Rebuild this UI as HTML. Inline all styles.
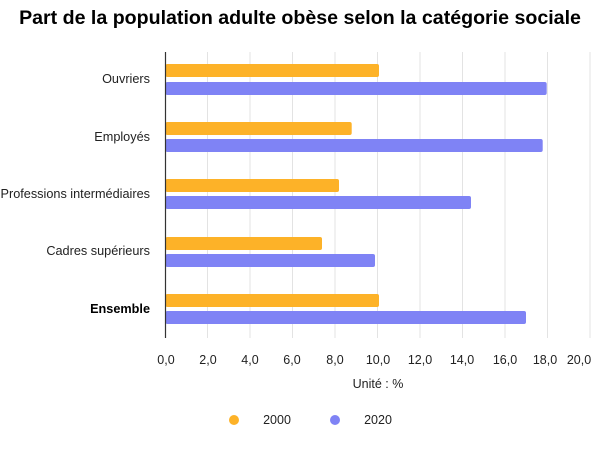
<!DOCTYPE html>
<html><head><meta charset="utf-8"><style>
body{margin:0;background:#fff;}
</style></head><body>
<svg width="600" height="450" xmlns="http://www.w3.org/2000/svg" font-family="'Liberation Sans',sans-serif">
<text x="300" y="24" text-anchor="middle" font-size="19.6" font-weight="bold" fill="#000">Part de la population adulte obèse selon la catégorie sociale</text>
<g stroke="#e3e3e3" stroke-width="1">
<line x1="207.5" y1="52" x2="207.5" y2="338"/><line x1="250" y1="52" x2="250" y2="338"/>
<line x1="292.5" y1="52" x2="292.5" y2="338"/><line x1="335" y1="52" x2="335" y2="338"/>
<line x1="377.5" y1="52" x2="377.5" y2="338"/><line x1="420" y1="52" x2="420" y2="338"/>
<line x1="462.5" y1="52" x2="462.5" y2="338"/><line x1="505" y1="52" x2="505" y2="338"/>
<line x1="547.5" y1="52" x2="547.5" y2="338"/><line x1="590" y1="52" x2="590" y2="338"/>
</g>
<g>
<rect x="165.5" y="64" width="213.5" height="13" rx="2" fill="#fdb228"/>
<rect x="165.5" y="82" width="381.2" height="13" rx="2" fill="#7f83f5"/>
<rect x="165.5" y="122" width="186.2" height="13" rx="2" fill="#fdb228"/>
<rect x="165.5" y="139" width="377.2" height="13" rx="2" fill="#7f83f5"/>
<rect x="165.5" y="179" width="173.5" height="13" rx="2" fill="#fdb228"/>
<rect x="165.5" y="196" width="305.5" height="13" rx="2" fill="#7f83f5"/>
<rect x="165.5" y="237" width="156.5" height="13" rx="2" fill="#fdb228"/>
<rect x="165.5" y="254" width="209.5" height="13" rx="2" fill="#7f83f5"/>
<rect x="165.5" y="294" width="213.5" height="13" rx="2" fill="#fdb228"/>
<rect x="165.5" y="311" width="360.5" height="13" rx="2" fill="#7f83f5"/>
</g>
<line x1="165.5" y1="52" x2="165.5" y2="338" stroke="#333" stroke-width="1.2"/>
<g font-size="12.7" fill="#222" text-anchor="end">
<text x="150" y="83">Ouvriers</text>
<text x="150" y="141">Employés</text>
<text x="150" y="198">Professions intermédiaires</text>
<text x="150" y="255">Cadres supérieurs</text>
<text x="150" y="313" font-weight="bold" fill="#000">Ensemble</text>
</g>
<g font-size="12.5" fill="#222" text-anchor="middle">
<text x="166" y="364">0,0</text><text x="208" y="364">2,0</text><text x="250" y="364">4,0</text>
<text x="292" y="364">6,0</text><text x="335" y="364">8,0</text><text x="378" y="364">10,0</text>
<text x="420" y="364">12,0</text><text x="462" y="364">14,0</text><text x="505" y="364">16,0</text>
<text x="545" y="364">18,0</text><text x="579" y="364">20,0</text>
<text x="378" y="388">Unité : %</text>
</g>
<circle cx="234" cy="420" r="5" fill="#fdb228"/>
<text x="277" y="424" font-size="12.5" text-anchor="middle" fill="#222">2000</text>
<circle cx="335" cy="420" r="5" fill="#7f83f5"/>
<text x="378" y="424" font-size="12.5" text-anchor="middle" fill="#222">2020</text>
</svg>
</body></html>
